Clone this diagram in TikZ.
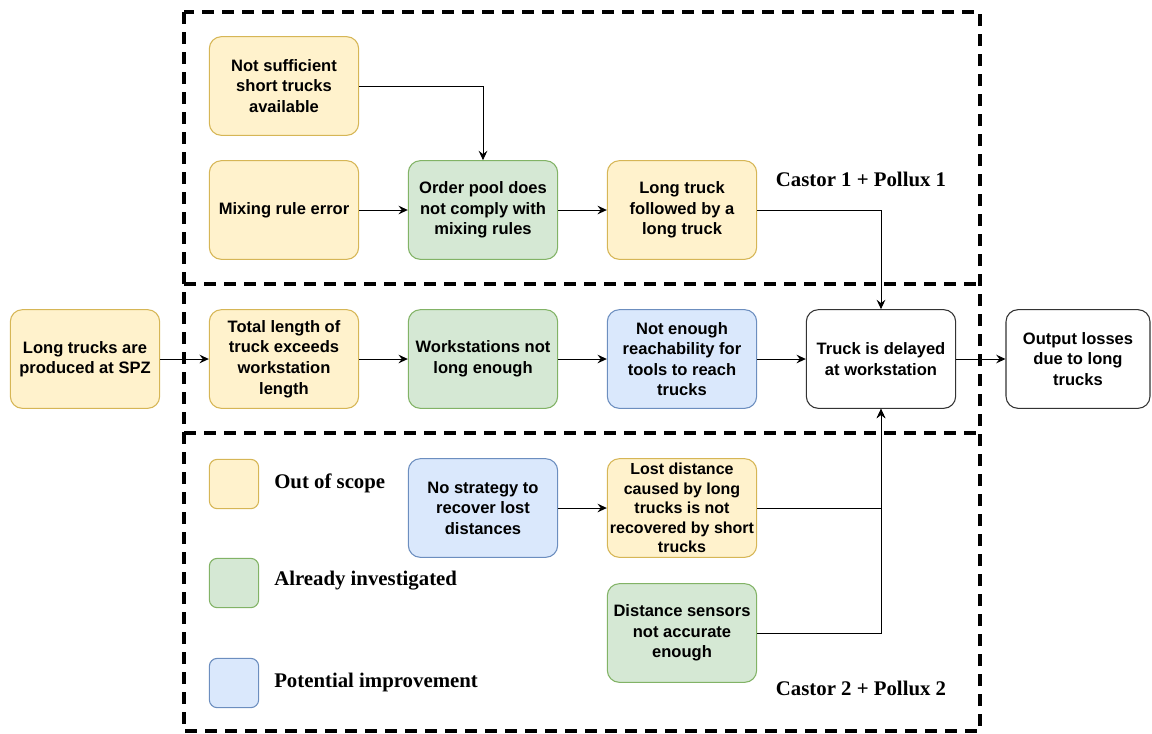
\documentclass[tikz,border=0pt]{standalone}
\usepackage{fontspec}
\setmainfont{Liberation Sans}
\newfontfamily\serifbold{Liberation Serif}[BoldFont={* Bold}]
\usetikzlibrary{arrows.meta}
\definecolor{ylwfill}{HTML}{FFF2CC}\definecolor{ylwline}{HTML}{D6B656}
\definecolor{grnfill}{HTML}{D5E8D4}\definecolor{grnline}{HTML}{82B366}
\definecolor{blufill}{HTML}{DAE8FC}\definecolor{bluline}{HTML}{6C8EBF}
\tikzset{
  box/.style={rounded corners=9pt, minimum width=112pt, minimum height=74pt,
    align=center, inner sep=1pt, line width=0.8pt,
    font=\fontsize{12.4}{15.4}\selectfont\bfseries},
  ybox/.style={box, draw=ylwline, fill=ylwfill},
  gbox/.style={box, draw=grnline, fill=grnfill},
  bbox/.style={box, draw=bluline, fill=blufill},
  wbox/.style={box, draw=black!80, fill=white},
  keysq/.style={rounded corners=6pt, minimum width=37pt, minimum height=37pt, line width=0.8pt},
  keytext/.style={anchor=west, inner sep=0pt, font=\serifbold\fontsize{15.6}{18}\selectfont\bfseries},
  zonetitle/.style={inner sep=0pt, font=\serifbold\fontsize{15.6}{18}\selectfont\bfseries},
  zone/.style={draw=black, line width=2.6pt, dash pattern=on 9pt off 6pt},
  link/.style={line width=0.75pt, -{Stealth[length=7pt,width=6.5pt,inset=2.5pt]}}
}
\begin{document}
\begin{tikzpicture}[x=0.75pt, y=-0.75pt]
\useasboundingbox (0,0) rectangle (1152,733);

% dashed zones: outer frame and two dividers
\draw[zone] (184,12) rectangle (980,731);
\draw[zone] (184,284) -- (980,284);
\draw[zone] (184,433) -- (980,433);

% upper zone
\node[ybox] (shortav) at (284,86) {Not sufficient\\short trucks\\available};
\node[ybox] (mixerr) at (284,210) {Mixing rule error};
\node[gbox] (pool) at (483,210) {Order pool does\\not comply with\\mixing rules};
\node[ybox] (longlong) at (682,210) {Long truck\\followed by a\\long truck};
\node[zonetitle] (zone1) at (861,179) {Castor 1 + Pollux 1};

% main row
\node[ybox] (spz) at (85,359) {Long trucks are\\produced at SPZ};
\node[ybox] (total) at (284,359) {Total length of\\truck exceeds\\workstation\\length};
\node[gbox] (ws) at (483,359) {Workstations not\\long enough};
\node[bbox] (reach) at (682,359) {Not enough\\reachability for\\tools to reach\\trucks};
\node[wbox] (delay) at (881,359) {Truck is delayed\\at workstation};
\node[wbox, minimum width=108pt] (loss) at (1078,359) {Output losses\\due to long\\trucks};

% lower zone
\node[bbox] (nostrat) at (483,508) {No strategy to\\recover lost\\distances};
\node[ybox, font=\fontsize{12}{14.6}\selectfont\bfseries] (lost) at (682,508) {Lost distance\\caused by long\\trucks is not\\recovered by short\\trucks};
\node[gbox] (sensor) at (682,633) {Distance sensors\\not accurate\\enough};
\node[zonetitle] (zone2) at (861,688) {Castor 2 + Pollux 2};

% key
\node[keysq, draw=ylwline, fill=ylwfill] (k1) at (234,484) {};
\node[keysq, draw=grnline, fill=grnfill] (k2) at (234,583) {};
\node[keysq, draw=bluline, fill=blufill] (k3) at (234,683) {};
\node[keytext] (t1) at (274,483) {Out of scope};
\node[keytext] (t2) at (274,581) {Already investigated};
\node[keytext] (t3) at (274,682) {Potential improvement};

% connectors
\draw[link] (shortav.east) -| (pool.north);
\draw[link] (mixerr) -- (pool);
\draw[link] (pool) -- (longlong);
\draw[link] (longlong.east) -| (delay.north);
\draw[link] (spz) -- (total);
\draw[link] (total) -- (ws);
\draw[link] (ws) -- (reach);
\draw[link] (reach) -- (delay);
\draw[link] (delay) -- (loss);
\draw[link] (nostrat) -- (lost);
\draw[link] (lost.east) -| (delay.south);
\draw[link] (sensor.east) -| (delay.south);
\end{tikzpicture}
\end{document}
